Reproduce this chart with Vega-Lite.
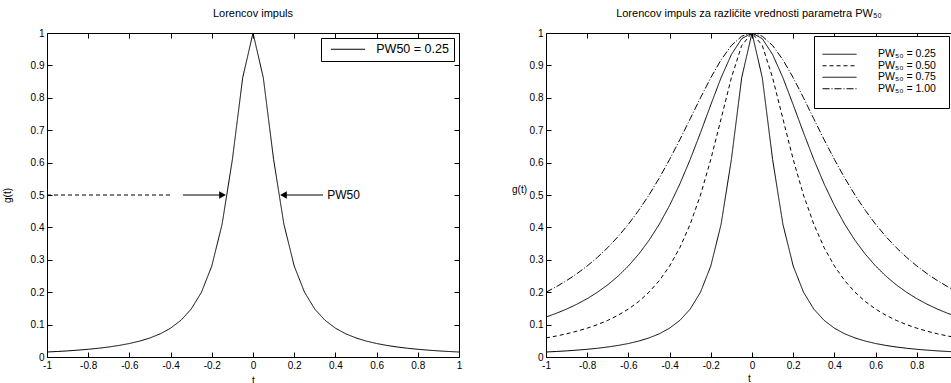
{
  "$schema": "https://vega.github.io/schema/vega-lite/v6.json",
  "background": "white",
  "padding": {"left": 2, "top": 8, "right": 0, "bottom": 0},
  "bounds": "flush",
  "spacing": 87,
  "config": {
    "font": "Liberation Sans",
    "view": {"stroke": null},
    "title": {"fontSize": 11, "fontWeight": "normal", "color": "black", "font": "Liberation Sans", "offset": 9},
    "axis": {
      "grid": false, "domainColor": "black", "domainWidth": 1, "tickColor": "black", "tickWidth": 1,
      "tickSize": -5, "labelPadding": 8, "labelFontSize": 10, "labelColor": "black", "labelFont": "Liberation Sans",
      "titleFont": "Liberation Sans", "titleFontSize": 10, "titleFontWeight": "normal", "titleColor": "black",
      "labelFlush": false, "labelOverlap": false, "labelBound": false
    },
    "legend": {"strokeColor": "black", "fillColor": "white", "cornerRadius": 0, "labelColor": "black", "labelFont": "Liberation Sans", "symbolStrokeColor": "black", "symbolStrokeWidth": 1}
  },
  "datasets": {
    "curves": [
      {"t": -1, "p": "0.25", "g": 0.0154}, {"t": -0.95, "p": "0.25", "g": 0.017}, {"t": -0.9, "p": "0.25", "g": 0.0189}, {"t": -0.85, "p": "0.25", "g": 0.0212}, {"t": -0.8, "p": "0.25", "g": 0.0238}, {"t": -0.75, "p": "0.25", "g": 0.027}, {"t": -0.7, "p": "0.25", "g": 0.0309}, {"t": -0.65, "p": "0.25", "g": 0.0357}, {"t": -0.6, "p": "0.25", "g": 0.0416}, {"t": -0.55, "p": "0.25", "g": 0.0491}, {"t": -0.5, "p": "0.25", "g": 0.0588}, {"t": -0.45, "p": "0.25", "g": 0.0716}, {"t": -0.4, "p": "0.25", "g": 0.089}, {"t": -0.35, "p": "0.25", "g": 0.1131}, {"t": -0.3, "p": "0.25", "g": 0.1479}, {"t": -0.25, "p": "0.25", "g": 0.2}, {"t": -0.2, "p": "0.25", "g": 0.2809}, {"t": -0.15, "p": "0.25", "g": 0.4098}, {"t": -0.1, "p": "0.25", "g": 0.6098}, {"t": -0.05, "p": "0.25", "g": 0.8621}, {"t": 0, "p": "0.25", "g": 1}, {"t": 0.05, "p": "0.25", "g": 0.8621}, {"t": 0.1, "p": "0.25", "g": 0.6098}, {"t": 0.15, "p": "0.25", "g": 0.4098}, {"t": 0.2, "p": "0.25", "g": 0.2809}, {"t": 0.25, "p": "0.25", "g": 0.2}, {"t": 0.3, "p": "0.25", "g": 0.1479}, {"t": 0.35, "p": "0.25", "g": 0.1131}, {"t": 0.4, "p": "0.25", "g": 0.089}, {"t": 0.45, "p": "0.25", "g": 0.0716}, {"t": 0.5, "p": "0.25", "g": 0.0588}, {"t": 0.55, "p": "0.25", "g": 0.0491}, {"t": 0.6, "p": "0.25", "g": 0.0416}, {"t": 0.65, "p": "0.25", "g": 0.0357}, {"t": 0.7, "p": "0.25", "g": 0.0309}, {"t": 0.75, "p": "0.25", "g": 0.027}, {"t": 0.8, "p": "0.25", "g": 0.0238}, {"t": 0.85, "p": "0.25", "g": 0.0212}, {"t": 0.9, "p": "0.25", "g": 0.0189}, {"t": 0.95, "p": "0.25", "g": 0.017}, {"t": 1, "p": "0.25", "g": 0.0154},
      {"t": -1, "p": "0.50", "g": 0.0588}, {"t": -0.95, "p": "0.50", "g": 0.0648}, {"t": -0.9, "p": "0.50", "g": 0.0716}, {"t": -0.85, "p": "0.50", "g": 0.0796}, {"t": -0.8, "p": "0.50", "g": 0.089}, {"t": -0.75, "p": "0.50", "g": 0.1}, {"t": -0.7, "p": "0.50", "g": 0.1131}, {"t": -0.65, "p": "0.50", "g": 0.1289}, {"t": -0.6, "p": "0.50", "g": 0.1479}, {"t": -0.55, "p": "0.50", "g": 0.1712}, {"t": -0.5, "p": "0.50", "g": 0.2}, {"t": -0.45, "p": "0.50", "g": 0.2358}, {"t": -0.4, "p": "0.50", "g": 0.2809}, {"t": -0.35, "p": "0.50", "g": 0.3378}, {"t": -0.3, "p": "0.50", "g": 0.4098}, {"t": -0.25, "p": "0.50", "g": 0.5}, {"t": -0.2, "p": "0.50", "g": 0.6098}, {"t": -0.15, "p": "0.50", "g": 0.7353}, {"t": -0.1, "p": "0.50", "g": 0.8621}, {"t": -0.05, "p": "0.50", "g": 0.9615}, {"t": 0, "p": "0.50", "g": 1}, {"t": 0.05, "p": "0.50", "g": 0.9615}, {"t": 0.1, "p": "0.50", "g": 0.8621}, {"t": 0.15, "p": "0.50", "g": 0.7353}, {"t": 0.2, "p": "0.50", "g": 0.6098}, {"t": 0.25, "p": "0.50", "g": 0.5}, {"t": 0.3, "p": "0.50", "g": 0.4098}, {"t": 0.35, "p": "0.50", "g": 0.3378}, {"t": 0.4, "p": "0.50", "g": 0.2809}, {"t": 0.45, "p": "0.50", "g": 0.2358}, {"t": 0.5, "p": "0.50", "g": 0.2}, {"t": 0.55, "p": "0.50", "g": 0.1712}, {"t": 0.6, "p": "0.50", "g": 0.1479}, {"t": 0.65, "p": "0.50", "g": 0.1289}, {"t": 0.7, "p": "0.50", "g": 0.1131}, {"t": 0.75, "p": "0.50", "g": 0.1}, {"t": 0.8, "p": "0.50", "g": 0.089}, {"t": 0.85, "p": "0.50", "g": 0.0796}, {"t": 0.9, "p": "0.50", "g": 0.0716}, {"t": 0.95, "p": "0.50", "g": 0.0648}, {"t": 1, "p": "0.50", "g": 0.0588},
      {"t": -1, "p": "0.75", "g": 0.1233}, {"t": -0.95, "p": "0.75", "g": 0.1348}, {"t": -0.9, "p": "0.75", "g": 0.1479}, {"t": -0.85, "p": "0.75", "g": 0.1629}, {"t": -0.8, "p": "0.75", "g": 0.1801}, {"t": -0.75, "p": "0.75", "g": 0.2}, {"t": -0.7, "p": "0.75", "g": 0.223}, {"t": -0.65, "p": "0.75", "g": 0.2497}, {"t": -0.6, "p": "0.75", "g": 0.2809}, {"t": -0.55, "p": "0.75", "g": 0.3174}, {"t": -0.5, "p": "0.75", "g": 0.36}, {"t": -0.45, "p": "0.75", "g": 0.4098}, {"t": -0.4, "p": "0.75", "g": 0.4678}, {"t": -0.35, "p": "0.75", "g": 0.5344}, {"t": -0.3, "p": "0.75", "g": 0.6098}, {"t": -0.25, "p": "0.75", "g": 0.6923}, {"t": -0.2, "p": "0.75", "g": 0.7785}, {"t": -0.15, "p": "0.75", "g": 0.8621}, {"t": -0.1, "p": "0.75", "g": 0.9336}, {"t": -0.05, "p": "0.75", "g": 0.9825}, {"t": 0, "p": "0.75", "g": 1}, {"t": 0.05, "p": "0.75", "g": 0.9825}, {"t": 0.1, "p": "0.75", "g": 0.9336}, {"t": 0.15, "p": "0.75", "g": 0.8621}, {"t": 0.2, "p": "0.75", "g": 0.7785}, {"t": 0.25, "p": "0.75", "g": 0.6923}, {"t": 0.3, "p": "0.75", "g": 0.6098}, {"t": 0.35, "p": "0.75", "g": 0.5344}, {"t": 0.4, "p": "0.75", "g": 0.4678}, {"t": 0.45, "p": "0.75", "g": 0.4098}, {"t": 0.5, "p": "0.75", "g": 0.36}, {"t": 0.55, "p": "0.75", "g": 0.3174}, {"t": 0.6, "p": "0.75", "g": 0.2809}, {"t": 0.65, "p": "0.75", "g": 0.2497}, {"t": 0.7, "p": "0.75", "g": 0.223}, {"t": 0.75, "p": "0.75", "g": 0.2}, {"t": 0.8, "p": "0.75", "g": 0.1801}, {"t": 0.85, "p": "0.75", "g": 0.1629}, {"t": 0.9, "p": "0.75", "g": 0.1479}, {"t": 0.95, "p": "0.75", "g": 0.1348}, {"t": 1, "p": "0.75", "g": 0.1233},
      {"t": -1, "p": "1.00", "g": 0.2}, {"t": -0.95, "p": "1.00", "g": 0.2169}, {"t": -0.9, "p": "1.00", "g": 0.2358}, {"t": -0.85, "p": "1.00", "g": 0.2571}, {"t": -0.8, "p": "1.00", "g": 0.2809}, {"t": -0.75, "p": "1.00", "g": 0.3077}, {"t": -0.7, "p": "1.00", "g": 0.3378}, {"t": -0.65, "p": "1.00", "g": 0.3717}, {"t": -0.6, "p": "1.00", "g": 0.4098}, {"t": -0.55, "p": "1.00", "g": 0.4525}, {"t": -0.5, "p": "1.00", "g": 0.5}, {"t": -0.45, "p": "1.00", "g": 0.5525}, {"t": -0.4, "p": "1.00", "g": 0.6098}, {"t": -0.35, "p": "1.00", "g": 0.6711}, {"t": -0.3, "p": "1.00", "g": 0.7353}, {"t": -0.25, "p": "1.00", "g": 0.8}, {"t": -0.2, "p": "1.00", "g": 0.8621}, {"t": -0.15, "p": "1.00", "g": 0.9174}, {"t": -0.1, "p": "1.00", "g": 0.9615}, {"t": -0.05, "p": "1.00", "g": 0.9901}, {"t": 0, "p": "1.00", "g": 1}, {"t": 0.05, "p": "1.00", "g": 0.9901}, {"t": 0.1, "p": "1.00", "g": 0.9615}, {"t": 0.15, "p": "1.00", "g": 0.9174}, {"t": 0.2, "p": "1.00", "g": 0.8621}, {"t": 0.25, "p": "1.00", "g": 0.8}, {"t": 0.3, "p": "1.00", "g": 0.7353}, {"t": 0.35, "p": "1.00", "g": 0.6711}, {"t": 0.4, "p": "1.00", "g": 0.6098}, {"t": 0.45, "p": "1.00", "g": 0.5525}, {"t": 0.5, "p": "1.00", "g": 0.5}, {"t": 0.55, "p": "1.00", "g": 0.4525}, {"t": 0.6, "p": "1.00", "g": 0.4098}, {"t": 0.65, "p": "1.00", "g": 0.3717}, {"t": 0.7, "p": "1.00", "g": 0.3378}, {"t": 0.75, "p": "1.00", "g": 0.3077}, {"t": 0.8, "p": "1.00", "g": 0.2809}, {"t": 0.85, "p": "1.00", "g": 0.2571}, {"t": 0.9, "p": "1.00", "g": 0.2358}, {"t": 0.95, "p": "1.00", "g": 0.2169}, {"t": 1, "p": "1.00", "g": 0.2}
    ],
    "guide": [{"x": -1, "x2": -0.39, "y": 0.5}],
    "shafts": [{"x": -0.34, "x2": -0.14, "y": 0.5}, {"x": 0.14, "x2": 0.34, "y": 0.5}],
    "heads": [{"x": -0.148, "y": 0.5, "dir": "right"}, {"x": 0.148, "y": 0.5, "dir": "left"}],
    "note": [{"x": 0.36, "y": 0.5, "label": "PW50"}]
  },
  "hconcat": [
    {
      "width": 412,
      "height": 324,
      "title": "Lorencov impuls",
      "layer": [
        {
          "data": {"name": "curves"},
          "transform": [{"filter": "datum.p == '0.25'"}],
          "mark": {"type": "line", "color": "black", "strokeWidth": 1},
          "encoding": {
            "x": {"field": "t", "type": "quantitative", "scale": {"domain": [-1, 1], "nice": false},
              "axis": {"orient": "bottom", "values": [-1, -0.8, -0.6, -0.4, -0.2, 0, 0.2, 0.4, 0.6, 0.8, 1], "labelExpr": "replace(format(datum.value, '.1~f'), '\u2212', '-')", "title": "t", "titlePadding": 5}},
            "y": {"field": "g", "type": "quantitative", "scale": {"domain": [0, 1], "nice": false, "zero": false},
              "axis": {"orient": "left", "values": [0, 0.1, 0.2, 0.3, 0.4, 0.5, 0.6, 0.7, 0.8, 0.9, 1], "labelExpr": "format(datum.value, '.1~f')", "title": "g(t)", "titlePadding": 18}},
            "strokeDash": {"field": "p", "type": "nominal", "scale": {"domain": ["0.25"], "range": [[1, 0]]},
              "legend": {"title": null, "orient": "top-right", "offset": 5, "padding": 5, "symbolType": "M-4,0H4", "symbolSize": 72.25, "symbolOffset": 15.75, "labelOffset": 22, "labelFontSize": 12.5, "labelExpr": "'PW50 = ' + datum.label"}}
          }
        },
        {
          "data": {"name": "curves"},
          "transform": [{"filter": "datum.p == '0.25'"}],
          "mark": {"type": "point", "opacity": 0},
          "encoding": {
            "x": {"field": "t", "type": "quantitative", "scale": {"domain": [-1, 1], "nice": false},
              "axis": {"orient": "top", "values": [-1, -0.8, -0.6, -0.4, -0.2, 0, 0.2, 0.4, 0.6, 0.8, 1], "labels": false, "title": null}},
            "y": {"field": "g", "type": "quantitative", "scale": {"domain": [0, 1], "nice": false, "zero": false},
              "axis": {"orient": "right", "values": [0, 0.1, 0.2, 0.3, 0.4, 0.5, 0.6, 0.7, 0.8, 0.9, 1], "labels": false, "title": null}}
          }
        },
        {
          "data": {"name": "guide"},
          "mark": {"type": "rule", "color": "black", "strokeWidth": 1, "strokeDash": [4, 3]},
          "encoding": {
            "x": {"field": "x", "type": "quantitative", "axis": null, "scale": {"domain": [-1, 1], "nice": false}},
            "x2": {"field": "x2"},
            "y": {"field": "y", "type": "quantitative", "axis": null, "scale": {"domain": [0, 1], "nice": false, "zero": false}}
          }
        },
        {
          "data": {"name": "shafts"},
          "mark": {"type": "rule", "color": "black", "strokeWidth": 1},
          "encoding": {
            "x": {"field": "x", "type": "quantitative", "axis": null, "scale": {"domain": [-1, 1], "nice": false}},
            "x2": {"field": "x2"},
            "y": {"field": "y", "type": "quantitative", "axis": null, "scale": {"domain": [0, 1], "nice": false, "zero": false}}
          }
        },
        {
          "data": {"name": "heads"},
          "mark": {"type": "point", "filled": true, "color": "black", "opacity": 1, "size": 60},
          "encoding": {
            "x": {"field": "x", "type": "quantitative", "axis": null, "scale": {"domain": [-1, 1], "nice": false}},
            "y": {"field": "y", "type": "quantitative", "axis": null, "scale": {"domain": [0, 1], "nice": false, "zero": false}},
            "shape": {"field": "dir", "type": "nominal", "scale": {"domain": ["right", "left"], "range": ["triangle-right", "triangle-left"]}, "legend": null}
          }
        },
        {
          "data": {"name": "note"},
          "mark": {"type": "text", "align": "left", "baseline": "middle", "fontSize": 12, "color": "black", "font": "Liberation Sans"},
          "encoding": {
            "x": {"field": "x", "type": "quantitative", "axis": null, "scale": {"domain": [-1, 1], "nice": false}},
            "y": {"field": "y", "type": "quantitative", "axis": null, "scale": {"domain": [0, 1], "nice": false, "zero": false}},
            "text": {"field": "label"}
          }
        }
      ],
      "resolve": {"axis": {"x": "independent", "y": "independent"}}
    },
    {
      "width": 406,
      "height": 324,
      "title": "Lorencov impuls za različite vrednosti parametra PW₅₀",
      "layer": [
        {
          "data": {"name": "curves"},
          "mark": {"type": "line", "color": "black", "strokeWidth": 1, "clip": true},
          "encoding": {
            "x": {"field": "t", "type": "quantitative", "scale": {"domain": [-1, 0.9709], "nice": false},
              "axis": {"orient": "bottom", "values": [-1, -0.8, -0.6, -0.4, -0.2, 0, 0.2, 0.4, 0.6, 0.8], "labelExpr": "replace(format(datum.value, '.1~f'), '\u2212', '-')", "title": "t", "titlePadding": 3}},
            "y": {"field": "g", "type": "quantitative", "scale": {"domain": [0, 1], "nice": false, "zero": false},
              "axis": {"orient": "left", "values": [0, 0.1, 0.2, 0.3, 0.4, 0.5, 0.6, 0.7, 0.8, 0.9, 1], "labelExpr": "format(datum.value, '.1~f')", "title": "g(t)", "titleAngle": 0, "titleX": -27, "titleY": 159, "titleAlign": "center", "titleBaseline": "alphabetic"}},
            "detail": {"field": "p"},
            "strokeDash": {"field": "p", "type": "nominal", "scale": {"domain": ["0.25", "0.50", "0.75", "1.00"], "range": [[1, 0], [4, 3], [1, 0], [7, 2, 1, 2]]},
              "legend": {"title": null, "orient": "top-right", "offset": 3, "padding": 13, "symbolType": "M-4,0H4", "symbolSize": 72.25, "symbolOffset": 7.25, "labelOffset": 33.25, "labelFontSize": 10.5, "rowPadding": 0.5, "labelExpr": "'PW₅₀ = ' + datum.label"}}
          }
        },
        {
          "data": {"name": "curves"},
          "transform": [{"filter": "datum.p == '0.25'"}],
          "mark": {"type": "point", "opacity": 0},
          "encoding": {
            "x": {"field": "t", "type": "quantitative", "scale": {"domain": [-1, 0.9709], "nice": false},
              "axis": {"orient": "top", "values": [-1, -0.8, -0.6, -0.4, -0.2, 0, 0.2, 0.4, 0.6, 0.8], "labels": false, "title": null}},
            "y": {"field": "g", "type": "quantitative", "scale": {"domain": [0, 1], "nice": false, "zero": false}, "axis": null}
          }
        }
      ],
      "resolve": {"axis": {"x": "independent", "y": "independent"}}
    }
  ],
  "resolve": {"scale": {"strokeDash": "independent"}, "legend": {"strokeDash": "independent"}}
}
